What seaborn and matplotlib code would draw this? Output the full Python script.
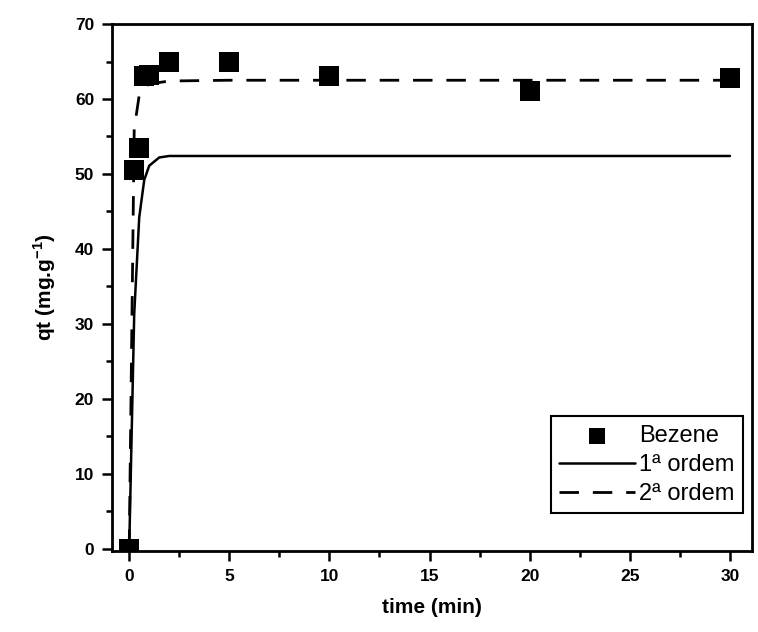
import matplotlib
matplotlib.use('Agg')
import matplotlib.pyplot as plt
import seaborn as sns
from matplotlib.ticker import MultipleLocator

# dados experimentais (benzeno)
t_exp = [0, 0.25, 0.5, 0.75, 1.0, 2, 5, 10, 20, 30]
q_exp = [0, 50.5, 53.5, 63.0, 63.2, 65.0, 65.0, 63.0, 61.0, 62.8]

# curvas ajustadas
t_fit = [0, 0.25, 0.5, 0.75, 1.0, 1.5, 2, 5, 10, 20, 30]
q_ordem1 = [0, 31.3, 44.2, 49.2, 51.1, 52.2, 52.4, 52.4, 52.4, 52.4, 52.4]
q_ordem2 = [0, 56.0, 60.5, 61.5, 62.0, 62.2, 62.4, 62.5, 62.5, 62.5, 62.5]

sns.set_style('ticks', {'axes.edgecolor': 'black', 'text.color': 'black',
                        'axes.labelcolor': 'black', 'xtick.color': 'black',
                        'ytick.color': 'black'})
plt.rcParams['font.family'] = ['Liberation Sans', 'DejaVu Sans']
plt.rcParams['mathtext.fontset'] = 'custom'
plt.rcParams['mathtext.bf'] = 'Liberation Sans:bold'
plt.rcParams['mathtext.rm'] = 'Liberation Sans:bold'

fig = plt.figure(figsize=(7.58, 6.32), dpi=100)
ax = fig.add_axes([0.148, 0.128, 0.844, 0.834])

sns.lineplot(x=t_fit, y=q_ordem1, ax=ax, color='black', linewidth=1.8, label='1ª ordem', zorder=2)
sns.lineplot(x=t_fit, y=q_ordem2, ax=ax, color='black', linewidth=2.0, label='2ª ordem', zorder=2)
ax.lines[1].set_dashes((7, 5))
sns.scatterplot(x=t_exp, y=q_exp, ax=ax, color='black', marker='s', s=190, edgecolor='black',
                linewidth=0, label='Bezene', zorder=3)

ax.set_xlim(-0.85, 31.1)
ax.set_ylim(-0.3, 70)
ax.xaxis.set_major_locator(MultipleLocator(5))
ax.xaxis.set_minor_locator(MultipleLocator(2.5))
ax.yaxis.set_major_locator(MultipleLocator(10))
ax.yaxis.set_minor_locator(MultipleLocator(5))
ax.tick_params(which='major', direction='out', length=7, width=1.8, labelsize=12.5, pad=6,
               colors='black')
ax.tick_params(which='minor', direction='out', length=4, width=1.8, colors='black')
for lbl in ax.get_xticklabels() + ax.get_yticklabels():
    lbl.set_fontweight('bold')
for sp in ax.spines.values():
    sp.set_visible(True)
    sp.set_linewidth(2.0)
    sp.set_color('black')

ax.set_xlabel('time (min)', fontsize=15, fontweight='bold', labelpad=10, color='black')
ax.set_ylabel(r'qt (mg.g$^{\mathbf{-1}}$)', fontsize=15, fontweight='bold', labelpad=12,
              color='black')

h, l = ax.get_legend_handles_labels()
order = [l.index('Bezene'), l.index('1ª ordem'), l.index('2ª ordem')]
leg = ax.legend([h[i] for i in order], [l[i] for i in order], loc='lower right',
                bbox_to_anchor=(0.986, 0.072), borderaxespad=0, fontsize=17,
                frameon=True, fancybox=False, edgecolor='black', framealpha=1,
                handlelength=3.2, handletextpad=0.2, labelspacing=0.3, borderpad=0.35,
                markerscale=0.85)
leg.get_frame().set_linewidth(1.5)
for txt in leg.get_texts():
    txt.set_color('black')

fig.savefig('out.png', dpi=100)
